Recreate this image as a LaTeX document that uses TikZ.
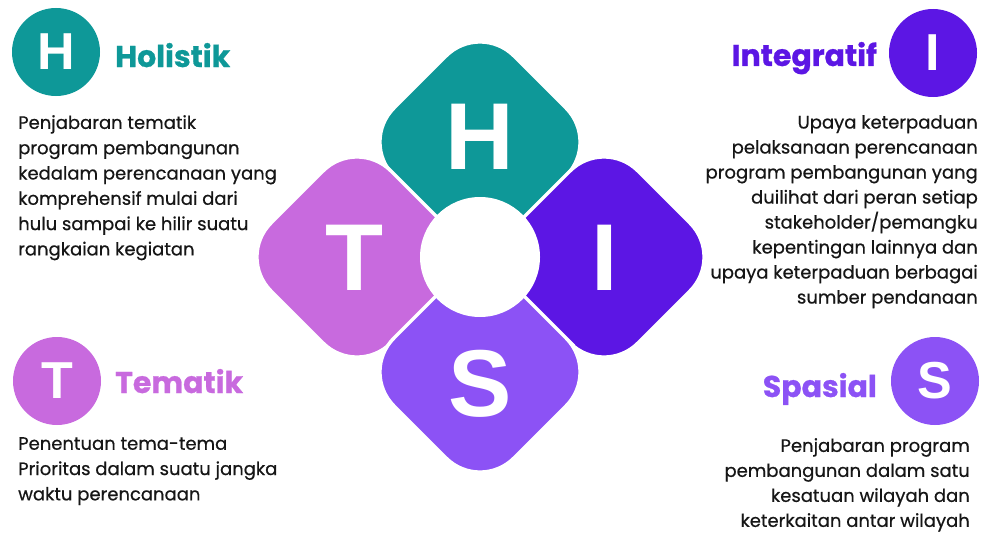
\documentclass[tikz,border=0pt]{standalone}
\usepackage{fontspec}
\usetikzlibrary{calc}
\setmainfont{Poppins}
\newfontfamily\bodyfont{Poppins}[FakeBold=0.6]
\newfontfamily\headfont{Poppins Bold}[FakeBold=0.8]
\newfontfamily\letterfont{Liberation Sans}
\definecolor{cteal}{RGB}{14,152,152}
\definecolor{cindigo}{RGB}{92,22,228}
\definecolor{corchid}{RGB}{200,106,222}
\definecolor{cviolet}{RGB}{140,82,245}
\definecolor{ctext}{RGB}{22,22,22}
\tikzset{
  petal/.style={draw=white,line width=3.5pt,rounded corners=48pt},
  bigletter/.style={text=white,font=\letterfont\bfseries\fontsize{95}{95}\selectfont,inner sep=0pt},
  badge/.style={circle,minimum size=88pt,inner sep=0pt,text=white,font=\letterfont\bfseries\fontsize{52}{52}\selectfont},
  heading/.style={inner sep=0pt,font=\headfont\fontsize{30}{30}\selectfont},
  bodyleft/.style={inner sep=0pt,align=left,text=ctext,font=\bodyfont\fontsize{18}{25.3}\selectfont},
  bodyright/.style={inner sep=0pt,align=right,text=ctext,font=\bodyfont\fontsize{18}{25}\selectfont}
}
\begin{document}
\begin{tikzpicture}[x=1pt,y=-1pt]
\useasboundingbox (0,0) rectangle (981,535);
% centres of petals
\coordinate (cH) at (480,142);
\coordinate (cS) at (480,372);
\coordinate (cT) at (357,257);
\coordinate (cI) at (604,257);
\coordinate (ctr) at (480,257);
\def\dd{120}
\foreach \c/\col in {cH/cteal,cT/corchid,cI/cindigo,cS/cviolet}{
  \filldraw[petal,fill=\col] ($(\c)+(60,-60)$) -- ($(\c)+(\dd,0)$) -- ($(\c)+(0,\dd)$) -- ($(\c)+(-\dd,0)$) -- ($(\c)+(0,-\dd)$) -- cycle;
}
\node[circle,fill=white,minimum size=120pt,inner sep=0pt] (hub) at (ctr) {};
\node[bigletter] (LH) at (480,137) {H};
\node[bigletter] (LT) at (355,258) {T};
\node[bigletter] (LI) at (605,258) {I};
\node[bigletter] (LS) at (480,384) {S};
% badges
\node[badge,fill=cteal] (bH) at (56,52) {H};
\node[badge,fill=cindigo] (bI) at (933,53) {I};
\node[badge,fill=corchid] (bT) at (57,381) {T};
\node[badge,fill=cviolet] (bS) at (935,381) {S};
% headings
\node[heading,text=cteal,anchor=base west] (hH) at (115,67) {Holistik};
\node[heading,text=cindigo,anchor=base east] (hI) at (877,66) {Integratif};
\node[heading,text=corchid,anchor=base west] (hT) at (115,393) {Tematik};
\node[heading,text=cviolet,anchor=base east] (hS) at (877,397) {Spasial};
% bodies
\node[bodyleft,anchor=north west] (tH) at (18,115) {Penjabaran tematik\\program pembangunan\\kedalam perencanaan yang\\komprehensif mulai dari\\hulu sampai ke hilir suatu\\rangkaian kegiatan};
\node[bodyright,anchor=north east] (tI) at (978,115) {Upaya keterpaduan\\pelaksanaan perencanaan\\program pembangunan yang\\duilihat dari peran setiap\\stakeholder/pemangku\\kepentingan lainnya dan\\upaya keterpaduan berbagai\\sumber pendanaan};
\node[bodyleft,anchor=north west] (tT) at (18,437) {Penentuan tema-tema\\Prioritas dalam suatu jangka\\waktu perencanaan};
\node[bodyright,anchor=north east] (tS) at (970,438) {Penjabaran program\\pembangunan dalam satu\\kesatuan wilayah dan\\keterkaitan antar wilayah};
\end{tikzpicture}
\end{document}
